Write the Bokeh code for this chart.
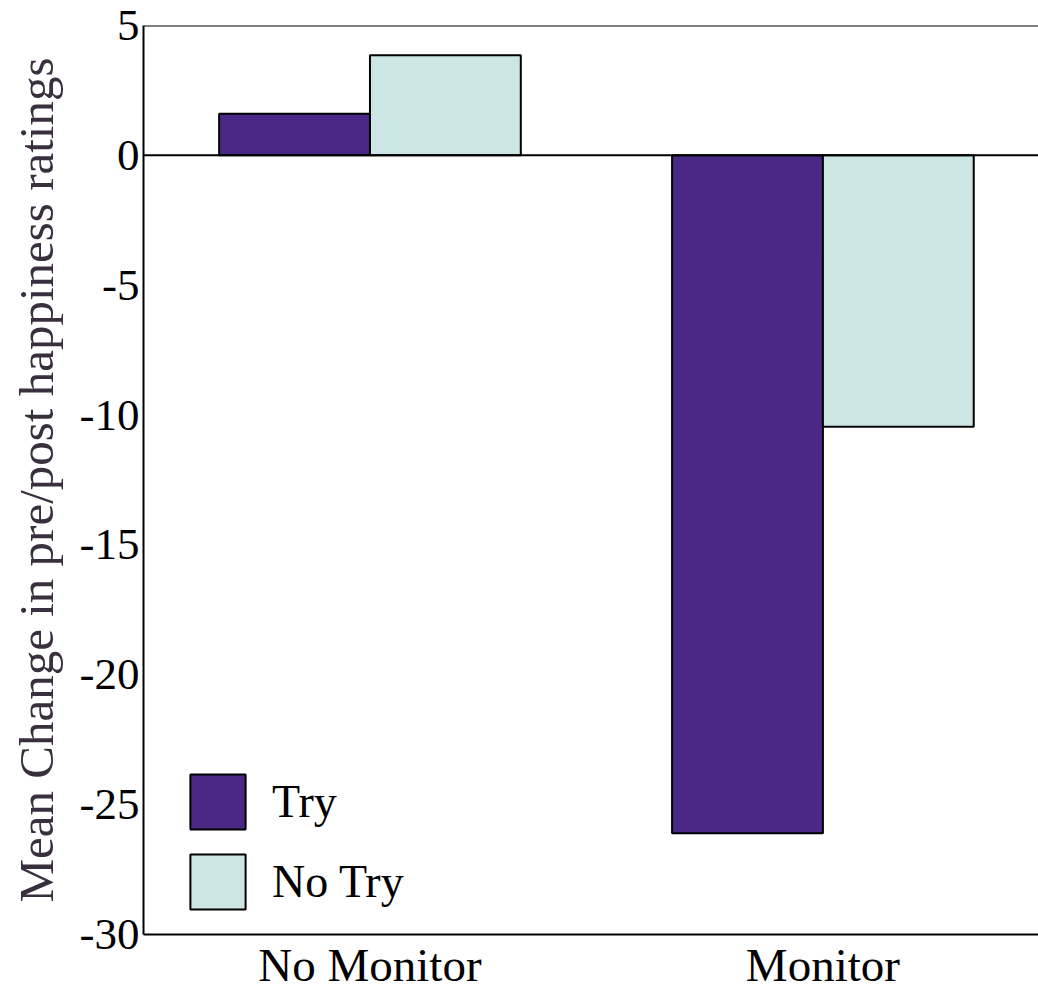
from bokeh.plotting import figure
from bokeh.models import ColumnDataSource, Range1d, FixedTicker, Span, Legend, LegendItem
from bokeh.transform import dodge
from bokeh.embed import file_html
from bokeh.resources import INLINE

categories = ["No Monitor", "Monitor"]
series = ["Try", "No Try"]
try_vals = [1.6, -26.1]
notry_vals = [3.85, -10.45]
y_ticks = [-30, -25, -20, -15, -10, -5, 0, 5]

colors = {"Try": "#4a2885", "No Try": "#cce5e5"}
FONT = "Liberation Serif"

xpos = [i + 0.5 for i in range(len(categories))]
src = ColumnDataSource(dict(x=xpos, cat=categories, Try=try_vals, NoTry=notry_vals))

p = figure(width=1038, height=993, x_range=Range1d(0, 1.976), y_range=Range1d(-30, 5),
           output_backend="svg", toolbar_location=None,
           min_border_left=143, min_border_top=25, min_border_bottom=58, min_border_right=0)
p.outline_line_color = None
p.grid.visible = False

bw = 0.333
r1 = p.vbar(x=dodge("x", -bw / 2, range=p.x_range), top="Try", bottom=0, width=bw, source=src,
            fill_color=colors["Try"], line_color="black", line_width=2)
r2 = p.vbar(x=dodge("x", bw / 2, range=p.x_range), top="NoTry", bottom=0, width=bw, source=src,
            fill_color=colors["No Try"], line_color="black", line_width=2)

p.add_layout(Span(location=0, dimension="width", line_color="black", line_width=2))
p.add_layout(Span(location=5, dimension="width", line_color="black", line_width=2))

# y axis
ya = p.yaxis[0]
ya.ticker = FixedTicker(ticks=y_ticks)
ya.major_label_overrides = {t: str(t) for t in y_ticks}
ya.major_tick_out = 0
ya.major_tick_in = 0
ya.minor_tick_out = 0
ya.minor_tick_in = 0
ya.axis_line_width = 2
ya.axis_line_color = "black"
ya.major_label_text_font = FONT
ya.major_label_text_font_size = "45px"
ya.major_label_text_color = "black"
ya.major_label_standoff = 4
ya.axis_label = "Mean Change in pre/post happiness ratings"
ya.axis_label_text_font = FONT
ya.axis_label_text_font_size = "49px"
ya.axis_label_text_font_style = "normal"
ya.axis_label_text_color = "#3a2f3f"
ya.axis_label_standoff = 13

# x axis
xa = p.xaxis[0]
xa.ticker = FixedTicker(ticks=xpos)
xa.major_label_overrides = {x: c for x, c in zip(xpos, categories)}
xa.major_tick_out = 0
xa.major_tick_in = 0
xa.minor_tick_out = 0
xa.minor_tick_in = 0
xa.axis_line_width = 2
xa.axis_line_color = "black"
xa.major_label_text_font = FONT
xa.major_label_text_font_size = "47px"
xa.major_label_text_color = "black"
xa.major_label_standoff = 4

legend = Legend(items=[LegendItem(label=series[0], renderers=[r1]),
                       LegendItem(label=series[1], renderers=[r2])],
                location=(40, 18), orientation="vertical",
                glyph_width=69, glyph_height=69, label_height=69, spacing=11,
                padding=0, margin=0, border_line_color=None, background_fill_alpha=0,
                label_text_font=FONT, label_text_font_size="46px", label_text_color="black",
                label_standoff=20)
p.add_layout(legend)

open("out.html", "w").write(file_html(p, INLINE))
